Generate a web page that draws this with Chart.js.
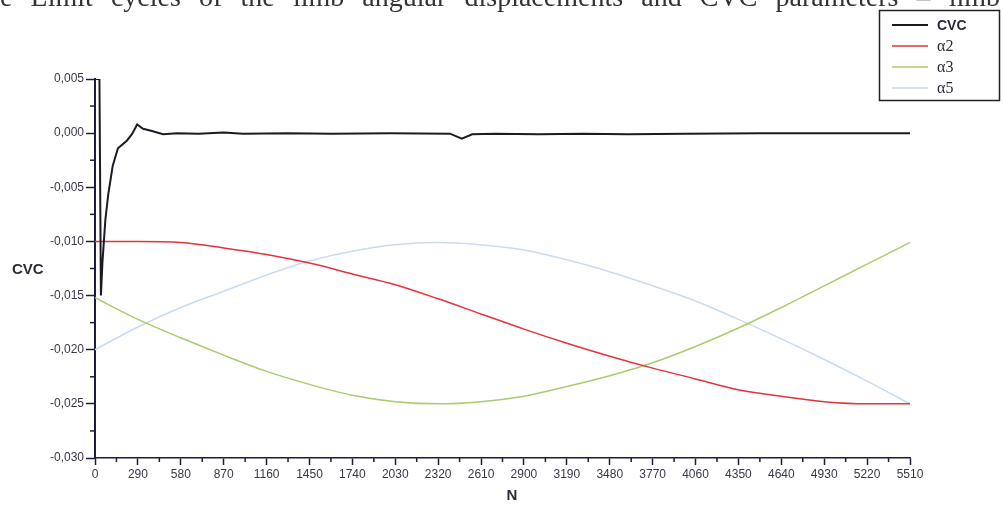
<!DOCTYPE html>
<html lang="en">
<head>
  <meta charset="UTF-8">
  <title>CVC and limb angles</title>
  <script src="https://cdn.jsdelivr.net/npm/chart.js"></script>
  <style>
    body { margin: 0; background: #fff; }
    #wrap { width: 1003px; height: 505px; }
  </style>
</head>
<body>
  <div id="wrap"><canvas id="chart" width="1003" height="505"></canvas></div>

  <script>
    // caption line cut off at the top of the scan
    const captionWords = ["e", "Limit", "cycles", "of", "the", "limb", "angular", "displacements", "and", "CVC", "parameters", "–", "limb"];

    // sample positions (N) for the three angle curves
    const nGrid = [0, 290, 580, 870, 1160, 1450, 1740, 2030, 2320, 2610, 2900, 3190, 3480, 3770, 4060, 4350, 4640, 4930, 5220, 5510];
    const alpha2 = [-0.0100, -0.0100, -0.0101, -0.0106, -0.0112, -0.0120, -0.0130, -0.0140, -0.0153, -0.0167, -0.0181, -0.0194, -0.0206, -0.0217, -0.0227, -0.0237, -0.0243, -0.0248, -0.0250, -0.0250];
    const alpha3 = [-0.0152, -0.0172, -0.0189, -0.0205, -0.0220, -0.0232, -0.0242, -0.0248, -0.0250, -0.0248, -0.0243, -0.0234, -0.0224, -0.0212, -0.0197, -0.0180, -0.0161, -0.0141, -0.0121, -0.0101];
    const alpha5 = [-0.0200, -0.0179, -0.0161, -0.0146, -0.0131, -0.0118, -0.0109, -0.0103, -0.0101, -0.0103, -0.0108, -0.0117, -0.0128, -0.0141, -0.0155, -0.0172, -0.0190, -0.0209, -0.0229, -0.0250];

    // CVC: start transient then settles near zero
    const cvcN = [0, 30, 40, 50, 70, 90, 120, 155, 215, 250, 285, 325, 385, 460, 555, 700, 870, 1000, 1300, 1600, 2000, 2400, 2480, 2550, 2700, 3000, 3300, 3600, 4000, 4500, 5000, 5510];
    const cvcV = [0.0050, 0.0050, -0.0150, -0.0120, -0.0080, -0.0056, -0.0030, -0.0014, -0.0007, -0.0001, 0.0008, 0.0004, 0.0002, -0.0001, 0.0000, -0.00005, 0.00005, -0.00005, 0.0000, -0.00005, 0.0000, -0.00005, -0.0005, -0.0001, -0.00005, -0.0001, -0.00005, -0.0001, -0.00005, 0.0000, 0.0000, 0.0000];

    const seriesNames = ["CVC", "α2", "α3", "α5"];
    const seriesColors = ["#1b1b24", "#e5333b", "#a9cc6c", "#c9dcef"];

    function pairs(xs, ys) {
      return xs.map((x, i) => ({ x: x, y: ys[i] }));
    }

    const axisColor = "#1c1c3c";
    const tickFont = { family: "Liberation Sans, Arial, sans-serif", size: 12 };

    // minor ticks, axis titles, legend box and caption
    const extras = {
      id: "extras",
      afterDraw(chart) {
        const ctx = chart.ctx;
        const xs = chart.scales.x, ys = chart.scales.y;
        ctx.save();
        ctx.strokeStyle = axisColor;
        ctx.lineWidth = 1.5;
        for (let v = -0.0275; v < 0.005; v += 0.005) {
          const py = ys.getPixelForValue(v);
          ctx.beginPath();
          ctx.moveTo(ys.right - 5, py);
          ctx.lineTo(ys.right, py);
          ctx.stroke();
        }
        for (let n = 145; n < 5510; n += 290) {
          const px = xs.getPixelForValue(n);
          ctx.beginPath();
          ctx.moveTo(px, xs.top);
          ctx.lineTo(px, xs.top + 4);
          ctx.stroke();
        }

        // axis titles
        ctx.fillStyle = "#2a2a38";
        ctx.font = "bold 15px Liberation Sans, Arial, sans-serif";
        ctx.textBaseline = "middle";
        ctx.textAlign = "left";
        ctx.fillText("CVC", 12, 270);
        ctx.textAlign = "center";
        ctx.fillText("N", 512, 496);

        // legend
        ctx.lineWidth = 1.5;
        ctx.strokeStyle = "#222";
        ctx.strokeRect(879.5, 10.5, 120, 90);
        const rows = [25, 46, 67, 88];
        chart.data.datasets.forEach((ds, i) => {
          ctx.strokeStyle = ds.borderColor;
          ctx.lineWidth = i === 0 ? 2 : 1.5;
          ctx.beginPath();
          ctx.moveTo(892, rows[i]);
          ctx.lineTo(928, rows[i]);
          ctx.stroke();
          ctx.fillStyle = "#2a2a38";
          ctx.textAlign = "left";
          ctx.font = i === 0 ? "bold 14px Liberation Sans, Arial, sans-serif" : "16px Liberation Serif, Times New Roman, serif";
          ctx.fillText(ds.label, 937, rows[i] + 1);
        });

        // clipped caption, spread across the width like justified text
        ctx.font = "28px Liberation Serif, Times New Roman, serif";
        ctx.fillStyle = "#333";
        ctx.textBaseline = "alphabetic";
        ctx.textAlign = "left";
        const widths = captionWords.map(w => ctx.measureText(w).width);
        const total = widths.reduce((a, b) => a + b, 0);
        const gap = (1000 - total) / (captionWords.length - 1);
        let cx = 0;
        captionWords.forEach((w, i) => {
          ctx.fillText(w, cx, 6);
          cx += widths[i] + gap;
        });
        ctx.restore();
      }
    };

    new Chart(document.getElementById("chart"), {
      type: "line",
      data: {
        datasets: [
          { label: seriesNames[0], data: pairs(cvcN, cvcV), borderColor: seriesColors[0], borderWidth: 2, tension: 0 },
          { label: seriesNames[1], data: pairs(nGrid, alpha2), borderColor: seriesColors[1], borderWidth: 1.5, cubicInterpolationMode: "monotone" },
          { label: seriesNames[2], data: pairs(nGrid, alpha3), borderColor: seriesColors[2], borderWidth: 1.5, cubicInterpolationMode: "monotone" },
          { label: seriesNames[3], data: pairs(nGrid, alpha5), borderColor: seriesColors[3], borderWidth: 1.5, cubicInterpolationMode: "monotone" }
        ]
      },
      options: {
        responsive: false,
        animation: false,
        elements: { point: { radius: 0 } },
        layout: { padding: { top: 79, right: 93, left: 0, bottom: 0 } },
        plugins: { legend: { display: false }, tooltip: { enabled: false } },
        scales: {
          x: {
            type: "linear",
            min: 0,
            max: 5510,
            border: { color: axisColor, width: 1.5 },
            grid: { drawOnChartArea: false, tickLength: 7, color: axisColor, tickWidth: 1.5 },
            ticks: { stepSize: 290, autoSkip: false, maxRotation: 0, padding: 2, color: "#3a3648", font: tickFont, callback: v => String(v) },
            afterFit(scale) { scale.height = 47; }
          },
          y: {
            min: -0.030,
            max: 0.005,
            border: { color: axisColor, width: 2 },
            grid: { drawOnChartArea: false, tickLength: 9, color: axisColor, tickWidth: 1.5 },
            ticks: {
              stepSize: 0.005,
              padding: 2,
              color: "#3a3648",
              font: tickFont,
              callback: v => Math.abs(v) < 1e-9 ? "0,000" : v.toFixed(3).replace(".", ",")
            },
            afterFit(scale) { scale.width = 95; }
          }
        }
      },
      plugins: [extras]
    });
  </script>
</body>
</html>
